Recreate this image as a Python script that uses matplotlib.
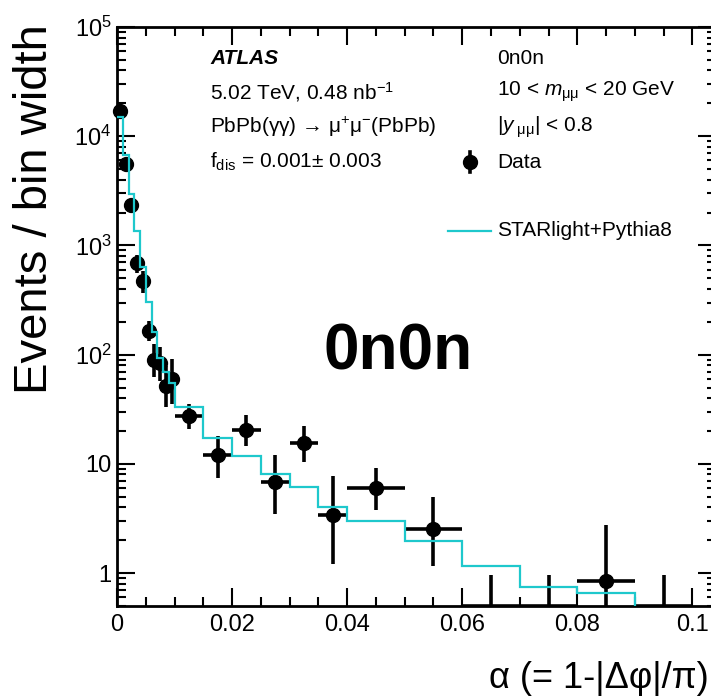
import numpy as np
import matplotlib
matplotlib.use("Agg")
import matplotlib.pyplot as plt
from matplotlib.lines import Line2D

plt.rcParams['font.family'] = ['Liberation Sans', 'DejaVu Sans']
plt.rcParams['mathtext.fontset'] = 'custom'
plt.rcParams['mathtext.rm'] = 'Liberation Sans'
plt.rcParams['mathtext.it'] = 'Liberation Sans:italic'
plt.rcParams['mathtext.bf'] = 'Liberation Sans:bold'

# bin edges in alpha
edges = [0, 0.001, 0.002, 0.003, 0.004, 0.005, 0.006, 0.007, 0.008, 0.009,
         0.010, 0.015, 0.020, 0.025, 0.030, 0.035, 0.040,
         0.050, 0.060, 0.070, 0.080, 0.090, 0.100]

# data (events / bin width) with asymmetric errors
data_y = [17000, 5600, 2330, 690, 477, 166, 90, 84, 52, 60,
          27.5, 12.1, 20.5, 6.8, 15.5, 3.4, 6.0, 2.55, 0, 0, 0.845, 0]
data_up = [700, 420, 250, 130, 110, 39, 34, 33, 27, 31,
           7.8, 6.0, 7.7, 5.3, 6.5, 4.4, 3.1, 2.4, 0.96, 0.96, 1.9, 0.96]
data_dn = [700, 420, 250, 130, 110, 32, 27, 27, 19, 25,
           6.7, 4.6, 5.9, 3.3, 5.2, 2.2, 2.2, 1.4, 0, 0, 0.845, 0]

# STARlight+Pythia8 prediction
mc_y = [15000, 6700, 2980, 1370, 632, 306, 162, 94, 69, 55,
        32.9, 17.4, 11.8, 8.15, 6.15, 4.06, 3.0, 1.97, 1.16, 0.75, 0.66, 0.3]

ytick_vals = [1, 10, 100, 1000, 1e4, 1e5]
ytick_labels = ["1", "10", r"$10^{2}$", r"$10^{3}$", r"$10^{4}$", r"$10^{5}$"]
xtick_vals = [0, 0.02, 0.04, 0.06, 0.08, 0.1]
xtick_labels = ["0", "0.02", "0.04", "0.06", "0.08", "0.1"]

cyan = '#1ec8cc'
ymin = 0.5

W, H = 711, 696
fig = plt.figure(figsize=(W / 100, H / 100), dpi=100)
ax = fig.add_axes([117 / W, 1 - 606 / H, (716 - 117) / W, (606 - 27) / H])

e = np.array(edges)
cen = 0.5 * (e[1:] + e[:-1])
half = 0.5 * (e[1:] - e[:-1])
y = np.array(data_y, dtype=float)
up = np.array(data_up)
dn = np.array(data_dn)

# points with entries; lower error stops at the bottom of the frame
nz = y > 0
lo = np.maximum(y[nz] - dn[nz], ymin)
ax.errorbar(cen[nz], y[nz], yerr=[y[nz] - lo, up[nz]], xerr=half[nz],
            fmt='o', color='black', ms=10, elinewidth=2.6, capsize=0,
            zorder=2, clip_on=False)
# empty bins: only the upper error and the bin width on the frame
z = ~nz
ax.errorbar(cen[z], np.full(z.sum(), ymin), yerr=[np.zeros(z.sum()), up[z] - ymin],
            xerr=half[z], fmt='none', ecolor='black', elinewidth=2.6, capsize=0,
            zorder=2)

ax.stairs(mc_y, edges, baseline=None, color=cyan, lw=1.6, zorder=3)

ax.set_yscale('log')
ax.set_xlim(0, 0.1041)
ax.set_ylim(ymin, 1e5)
ax.set_yticks(ytick_vals)
ax.set_yticklabels(ytick_labels)
ax.set_xticks(xtick_vals)
ax.set_xticklabels(xtick_labels)
ax.set_xticks(np.arange(0, 0.1041, 0.005), minor=True)

ax.tick_params(which='both', direction='in', top=True, right=True, width=1.5,
               labelsize=17)
ax.tick_params(which='major', length=13)
ax.tick_params(which='minor', length=6.5)
ax.tick_params(axis='x', pad=6)
ax.tick_params(axis='y', pad=4)
for s in ax.spines.values():
    s.set_linewidth(2)

def fx(px):
    return px / W

def fy(py):
    return 1 - py / H

fs = 15
fig.text(fx(210), fy(58), "ATLAS", fontsize=fs, fontweight='bold', style='italic', va='center')
fig.text(fx(210), fy(92), r"5.02 TeV, 0.48 nb$^{-1}$", fontsize=fs, va='center')
fig.text(fx(210), fy(127), r"PbPb(γγ) → μ$^{+}$μ$^{-}$(PbPb)", fontsize=fs, va='center')
fig.text(fx(210), fy(162), r"f$_{\mathrm{dis}}$ = 0.001± 0.003", fontsize=fs, va='center')

fig.text(fx(497), fy(58), "0n0n", fontsize=fs, va='center')
fig.text(fx(497), fy(92), r"10 < $m_{\mathrm{μμ}}$ < 20 GeV", fontsize=fs, va='center')
fig.text(fx(497), fy(127), r"|$y_{\mathrm{\ μμ}}$| < 0.8", fontsize=fs, va='center')
fig.text(fx(497), fy(162), "Data", fontsize=fs, va='center')
fig.text(fx(497), fy(231), "STARlight+Pythia8", fontsize=fs, va='center')

fig.add_artist(Line2D([fx(470), fx(470)], [fy(152), fy(172)], color='black', lw=2.6))
fig.add_artist(Line2D([fx(470)], [fy(162)], marker='o', color='black', ms=10))
fig.add_artist(Line2D([fx(448), fx(491)], [fy(231), fy(231)], color=cyan, lw=1.6))

fig.text(fx(398), fy(353), "0n0n", fontsize=46, fontweight='bold', ha='center', va='center')

fig.text(fx(35), fy(209), "Events / bin width", fontsize=34, rotation=90,
         ha='center', va='center')
fig.text(fx(709), fy(688), "α (= 1-|Δφ|/π)", fontsize=26, ha='right', va='baseline')

fig.savefig("out.png", dpi=100)
